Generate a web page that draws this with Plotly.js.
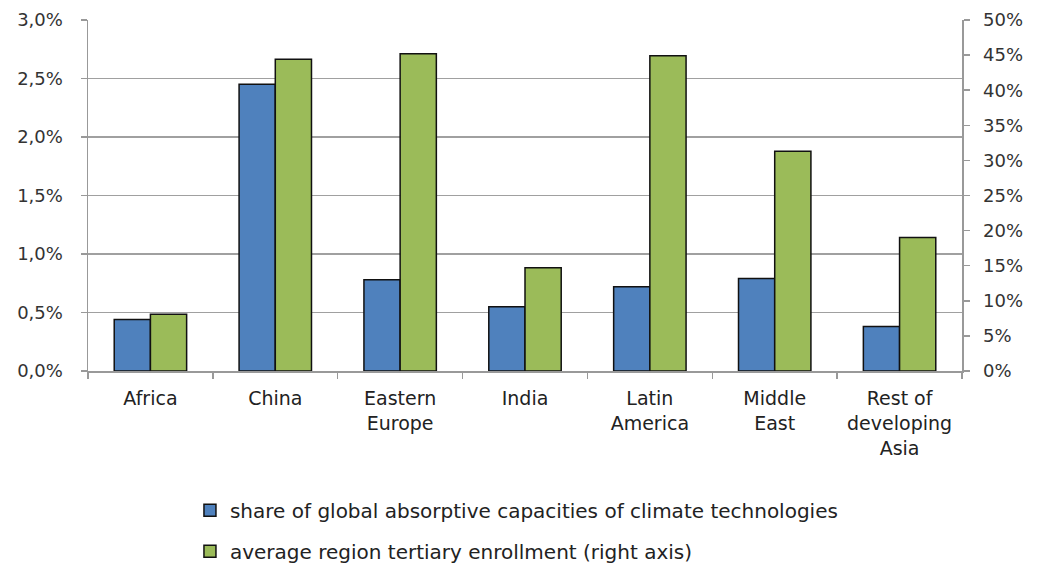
<!DOCTYPE html>
<html>
<head>
<meta charset="utf-8">
<script src="https://cdn.plot.ly/plotly-3.0.1.min.js"></script>
<style>html,body{margin:0;padding:0;background:#fff;}#chart{width:1038px;height:564px;}</style>
</head>
<body>
<div id="chart"></div>
<script>
const categories = ["Africa", "China", "Eastern<br>Europe", "India", "Latin<br>America", "Middle<br>East", "Rest of<br>developing<br>Asia"];
const shareAbsorptive = [0.0044, 0.0245, 0.0078, 0.0055, 0.0072, 0.0079, 0.0038];
const tertiaryEnrollment = [0.081, 0.444, 0.452, 0.147, 0.449, 0.313, 0.190];
const seriesNames = ["share of global absorptive capacities of climate technologies", "average region tertiary enrollment (right axis)"];

const traces = [
  {
    type: "bar", x: categories, y: shareAbsorptive, name: seriesNames[0],
    marker: {color: "#4F81BD", line: {color: "#111", width: 1.5}},
    offsetgroup: "a", yaxis: "y", legendgroup: "g1"
  },
  {
    type: "bar", x: categories, y: tertiaryEnrollment, name: seriesNames[1],
    marker: {color: "#9BBB59", line: {color: "#111", width: 1.5}},
    offsetgroup: "b", yaxis: "y2", legendgroup: "g2"
  }
];

const tickFont = {family: "DejaVu Sans", size: 18, color: "#333"};
const layout = {
  width: 1038, height: 564,
  margin: {l: 88, r: 76, t: 20, b: 193, autoexpand: false},
  paper_bgcolor: "#fff", plot_bgcolor: "#fff",
  separators: ", ",
  barmode: "group",
  bargap: 0.42, bargroupgap: 0,
  showlegend: true,
  legend: {
    orientation: "v", xref: "container", yref: "container",
    x: 0.183, xanchor: "left", y: 0.13, yanchor: "top",
    font: {family: "DejaVu Sans", size: 20, color: "#222"},
    tracegroupgap: 12, traceorder: "grouped", bgcolor: "rgba(0,0,0,0)"
  },
  xaxis: {
    type: "category", automargin: false,
    showline: true, linecolor: "#999", linewidth: 1.5,
    ticks: "outside", tickson: "boundaries", ticklen: 6, tickcolor: "#999", tickwidth: 1.5,
    tickfont: {family: "DejaVu Sans", size: 19, color: "#222"},
    ticklabelstandoff: 10,
    showgrid: false, zeroline: false, fixedrange: true, tickangle: 0
  },
  yaxis: {
    range: [0, 0.03], dtick: 0.005, tickformat: ".1%", automargin: false,
    showline: true, linecolor: "#999", linewidth: 1.5,
    ticks: "outside", ticklen: 6, tickcolor: "#999", tickwidth: 1.5,
    showgrid: true, gridcolor: "#A0A0A0", gridwidth: 1.5,
    zeroline: false, tickfont: tickFont, ticklabelstandoff: 14
  },
  yaxis2: {
    range: [0, 0.5], dtick: 0.05, tickformat: ".0%", automargin: false,
    overlaying: "y", side: "right",
    showline: true, linecolor: "#999", linewidth: 1.5,
    ticks: "outside", ticklen: 6, tickcolor: "#999", tickwidth: 1.5,
    showgrid: false, zeroline: false, tickfont: tickFont, ticklabelstandoff: 10
  }
};

Plotly.newPlot("chart", traces, layout, {displayModeBar: false, staticPlot: true});
</script>
</body>
</html>
